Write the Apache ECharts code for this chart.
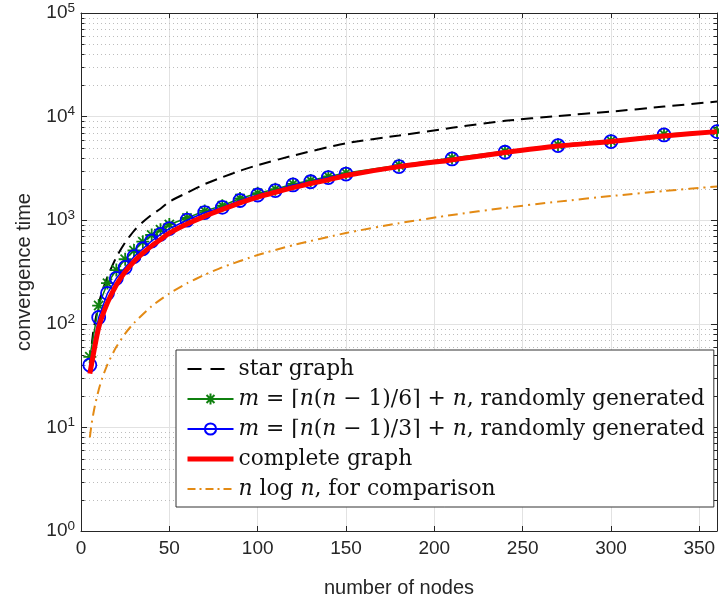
<!DOCTYPE html>
<html>
<head>
<meta charset="utf-8">
<script src="https://cdn.jsdelivr.net/npm/echarts@6/dist/echarts.min.js"></script>
<style>
html,body{margin:0;padding:0;background:#fff;}
#chart{width:719px;height:603px;}
</style>
</head>
<body>
<div id="chart"></div>
<script>
// ---- data ----
const nodes = [5,10,15,20,25,30,35,40,45,50,60,70,80,90,100,110,120,130,140,150,180,210,240,270,300,330,360];
const greenVals = [48,150,247,330,420,510,620,720,810,910,1050,1230,1380,1620,1820,1990,2240,2420,2640,2850,3400,3980,4620,5350,5850,6750,7250];
const blueVals = [40,115,197,275,350,445,530,630,730,830,1000,1185,1330,1550,1750,1930,2190,2350,2580,2790,3290,3900,4530,5250,5740,6650,7160];
const completeVals = [33,92,160,237,318,400,480,565,650,750,920,1090,1270,1470,1670,1860,2060,2260,2450,2700,3290,3820,4500,5200,5750,6500,7160];

const starNodes = [5,7,10,12,15,20,25,30,35,40,45,50,60,70,80,90,100,120,150,180,210,240,270,300,330,360];
const starVals = [42,85,155,205,285,440,610,790,960,1130,1290,1510,1840,2230,2600,3000,3400,4200,5530,6570,7800,9100,10140,11170,12490,13960];

const nlognNodes = [5,6,7,8,10,12,15,20,25,30,40,50,60,70,80,100,120,150,180,210,240,270,300,330,360];
const nlognVals = [8.0,10.8,13.6,16.6,23,29.8,40.6,59.9,80.5,102,148,196,246,297,351,461,574,752,935,1123,1315,1511,1711,1914,2119];

const xTicks = [0,50,100,150,200,250,300,350];
const yMinorTicks = [2,3,4,5,6,7,8,9,20,30,40,50,60,70,80,90,200,300,400,500,600,700,800,900,
  2000,3000,4000,5000,6000,7000,8000,9000,20000,30000,40000,50000,60000,70000,80000,90000];

const legendLabels = {
  'star graph': 'star graph',
  'm6': '{i|m} = ⌈{i|n}({i|n} − 1)/6⌉ + {i|n}, randomly generated',
  'm3': '{i|m} = ⌈{i|n}({i|n} − 1)/3⌉ + {i|n}, randomly generated',
  'complete graph': 'complete graph',
  'nlogn': '{i|n} log {i|n}, for comparison'
};

const pair = (xs, ys) => xs.map((x, i) => [x, ys[i]]);

const axisColor = '#262626';
const sans = 'Liberation Sans';
const serif = 'DejaVu Serif';

const chart = echarts.init(document.getElementById('chart'), null, {renderer: 'canvas'});

const option = {
  animation: false,
  backgroundColor: '#fff',
  grid: {left: 81, right: 2, top: 13, bottom: 72, containLabel: false},
  xAxis: [{
    type: 'value', min: 0, max: 360, interval: 50, position: 'bottom',
    axisLine: {onZero: false, lineStyle: {color: axisColor, width: 1}},
    axisTick: {inside: true, length: 5, lineStyle: {color: axisColor}},
    axisLabel: {fontSize: 19, color: axisColor, fontFamily: sans, margin: 8, showMaxLabel: false,
      formatter: v => xTicks.includes(v) ? String(v) : ''},
    splitLine: {show: true, lineStyle: {color: '#e2e2e2', width: 1}},
    name: 'number of nodes', nameLocation: 'middle', nameGap: 47,
    nameTextStyle: {fontSize: 20, color: axisColor, fontFamily: sans}
  }, {
    type: 'value', min: 0, max: 360, interval: 50, position: 'top',
    axisLine: {onZero: false, lineStyle: {color: axisColor, width: 1}},
    axisTick: {inside: true, length: 5, lineStyle: {color: axisColor}},
    axisLabel: {show: false}, splitLine: {show: false}
  }],
  yAxis: [{
    type: 'log', logBase: 10, min: 1, max: 100000, position: 'left',
    axisLine: {show: true, onZero: false, lineStyle: {color: axisColor, width: 1}},
    axisTick: {inside: true, length: 6, lineStyle: {color: axisColor}},
    minorTick: {show: false},
    axisLabel: {
      color: axisColor, fontFamily: sans, margin: 6,
      formatter: v => '{b|10}{s|' + Math.round(Math.log10(v)) + '}',
      rich: {
        b: {fontSize: 19, color: axisColor, fontFamily: sans},
        s: {fontSize: 13.5, color: axisColor, fontFamily: sans, padding: [0, 0, 10, 0]}
      }
    },
    splitLine: {show: true, lineStyle: {color: '#e2e2e2', width: 1}},
    name: 'convergence time', nameLocation: 'middle', nameGap: 47, nameRotate: 90,
    nameTextStyle: {fontSize: 20, color: axisColor, fontFamily: sans}
  }, {
    type: 'log', logBase: 10, min: 1, max: 100000, position: 'right',
    axisLine: {show: true, onZero: false, lineStyle: {color: axisColor, width: 1}},
    axisTick: {inside: true, length: 6, lineStyle: {color: axisColor}},
    axisLabel: {show: false}, splitLine: {show: false}
  }],
  legend: {
    data: [
      {name: 'star graph', itemStyle: {opacity: 0}, lineStyle: {width: 2.2, type: [14, 9]}},
      {name: 'm6', lineStyle: {width: 1.8}},
      {name: 'm3', lineStyle: {width: 1.8}},
      {name: 'complete graph', itemStyle: {opacity: 0}, lineStyle: {width: 5}},
      {name: 'nlogn', itemStyle: {opacity: 0}, lineStyle: {width: 2, type: [8, 4, 2, 4]}}
    ],
    orient: 'vertical', left: 176, top: 350,
    itemWidth: 46, itemHeight: 14, itemGap: 8,
    padding: [8, 9, 7, 9],
    backgroundColor: '#fff', borderColor: '#333', borderWidth: 1, borderRadius: 0,
    formatter: name => legendLabels[name],
    textStyle: {
      fontFamily: serif, fontSize: 21.8, lineHeight: 22, color: '#111',
      rich: {i: {fontFamily: serif, fontStyle: 'italic', fontSize: 21.8, lineHeight: 22, color: '#111'}}
    },
    selectedMode: false
  },
  series: [
    {
      type: 'custom', name: 'minor', silent: true, z: 0,
      xAxisIndex: 0, yAxisIndex: 0, clip: false,
      data: yMinorTicks.map(v => [0, v]),
      renderItem: (params, api) => {
        const p = api.coord([0, api.value(1)]);
        const cs = params.coordSys;
        const y = Math.round(p[1]) + 0.5;
        return {type: 'group', children: [
          {type: 'line', shape: {x1: cs.x, y1: y, x2: cs.x + cs.width, y2: y},
            style: {stroke: '#bdbdbd', lineWidth: 1, lineDash: [1, 3]}},
          {type: 'line', shape: {x1: cs.x, y1: y, x2: cs.x + 3.5, y2: y},
            style: {stroke: axisColor, lineWidth: 1}},
          {type: 'line', shape: {x1: cs.x + cs.width - 3.5, y1: y, x2: cs.x + cs.width, y2: y},
            style: {stroke: axisColor, lineWidth: 1}}
        ]};
      }
    },
    {
      name: 'star graph', type: 'line', data: pair(starNodes, starVals),
      symbol: 'none', smooth: 0.2, z: 2,
      lineStyle: {color: '#000', width: 2, type: [12, 7]},
      itemStyle: {color: '#000'}
    },
    {
      name: 'm6', type: 'line', data: pair(nodes, greenVals),
      symbol: 'path://M0,-10L0,10M-10,0L10,0M-7.07,-7.07L7.07,7.07M-7.07,7.07L7.07,-7.07',
      symbolSize: 13, showAllSymbol: true, z: 3,
      lineStyle: {color: '#0f800f', width: 1.5},
      itemStyle: {color: 'transparent', borderColor: '#0f800f', borderWidth: 1.8}
    },
    {
      name: 'm3', type: 'line', data: pair(nodes, blueVals),
      symbol: 'circle', symbolSize: 13, showAllSymbol: true, z: 4,
      lineStyle: {color: '#0000ff', width: 1.5},
      itemStyle: {color: 'transparent', borderColor: '#0000ff', borderWidth: 1.8}
    },
    {
      name: 'complete graph', type: 'line', data: pair(nodes, completeVals),
      symbol: 'none', smooth: 0.2, z: 5,
      lineStyle: {color: '#ff0000', width: 5},
      itemStyle: {color: '#ff0000'}
    },
    {
      name: 'nlogn', type: 'line', data: pair(nlognNodes, nlognVals),
      symbol: 'none', smooth: 0.2, z: 6,
      lineStyle: {color: '#e38a14', width: 2, type: [10, 5, 2, 5]},
      itemStyle: {color: '#e38a14'}
    }
  ]
};
chart.setOption(option);
</script>
</body>
</html>
